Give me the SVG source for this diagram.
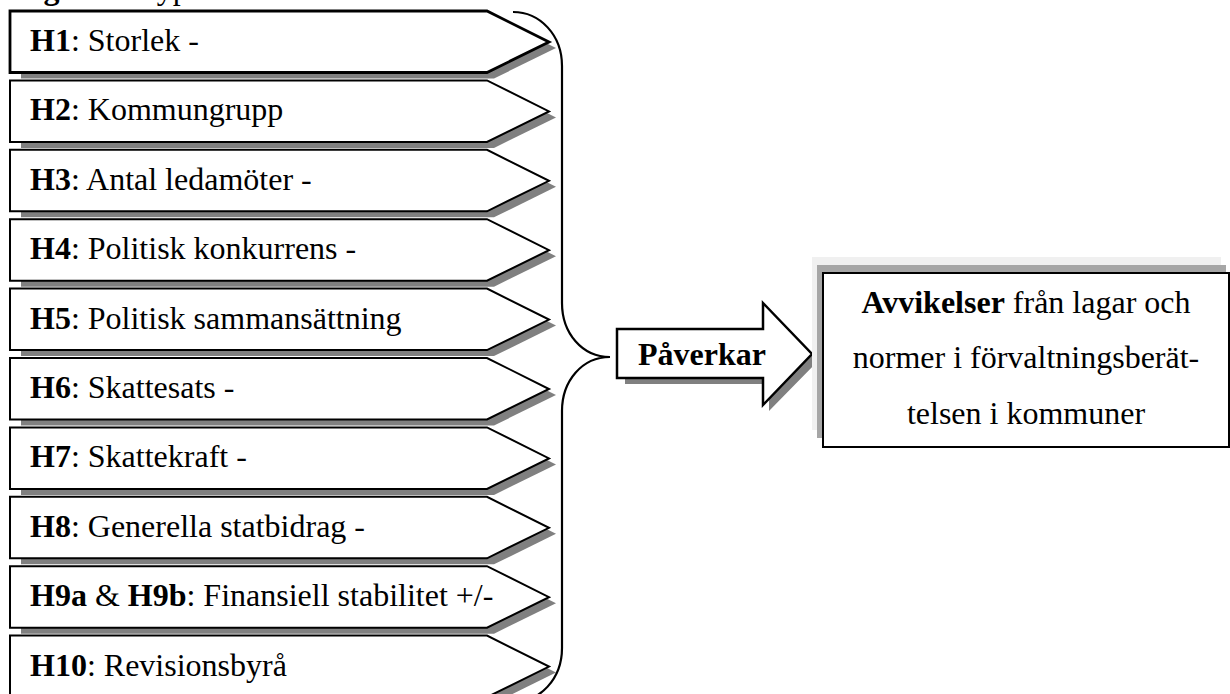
<svg xmlns="http://www.w3.org/2000/svg" width="1230" height="694" viewBox="0 0 1230 694">
<style>
.t{font-family:"Liberation Serif","Times New Roman",serif;font-size:32px;fill:#000}
.b{font-weight:bold}
.sh{fill:#808080;stroke:none}
.pent{fill:#fff;stroke:#000;stroke-width:2;stroke-linejoin:miter}
.brace{fill:none;stroke:#000;stroke-width:2.2}
</style>
<defs>
<path id="pshape" d="M10,0 H487 L549,31 L487,61.5 H10 Z"/>
<path id="pshadow" d="M21,6 H494 L556,37 L494,67.5 H21 Z"/>
</defs>
<g id="title"><text class="t" x="15" y="-1"><tspan class="b">Figur 1:</tspan> Hypoteser</text></g>
<g id="h1" transform="translate(0,11)"><use href="#pshadow" class="sh"/><use href="#pshape" class="pent" style="stroke-width:2.8"/><text class="t" x="30" y="40"><tspan class="b">H1</tspan>: Storlek -</text></g>
<g id="h2" transform="translate(0,80.4)"><use href="#pshadow" class="sh"/><use href="#pshape" class="pent"/><text class="t" x="30" y="40"><tspan class="b">H2</tspan>: Kommungrupp</text></g>
<g id="h3" transform="translate(0,149.8)"><use href="#pshadow" class="sh"/><use href="#pshape" class="pent"/><text class="t" x="30" y="40"><tspan class="b">H3</tspan>: Antal ledamöter -</text></g>
<g id="h4" transform="translate(0,219.2)"><use href="#pshadow" class="sh"/><use href="#pshape" class="pent"/><text class="t" x="30" y="40"><tspan class="b">H4</tspan>: Politisk konkurrens -</text></g>
<g id="h5" transform="translate(0,288.6)"><use href="#pshadow" class="sh"/><use href="#pshape" class="pent"/><text class="t" x="30" y="40"><tspan class="b">H5</tspan>: Politisk sammansättning</text></g>
<g id="h6" transform="translate(0,358)"><use href="#pshadow" class="sh"/><use href="#pshape" class="pent"/><text class="t" x="30" y="40"><tspan class="b">H6</tspan>: Skattesats -</text></g>
<g id="h7" transform="translate(0,427.4)"><use href="#pshadow" class="sh"/><use href="#pshape" class="pent"/><text class="t" x="30" y="40"><tspan class="b">H7</tspan>: Skattekraft -</text></g>
<g id="h8" transform="translate(0,496.8)"><use href="#pshadow" class="sh"/><use href="#pshape" class="pent"/><text class="t" x="30" y="40"><tspan class="b">H8</tspan>: Generella statbidrag -</text></g>
<g id="h9" transform="translate(0,566.2)"><use href="#pshadow" class="sh"/><use href="#pshape" class="pent"/><text class="t" x="30" y="40"><tspan class="b">H9a</tspan> &amp; <tspan class="b">H9b</tspan>: Finansiell stabilitet +/-</text></g>
<g id="h10" transform="translate(0,635.6)"><use href="#pshadow" class="sh"/><use href="#pshape" class="pent"/><text class="t" x="30" y="40"><tspan class="b">H10</tspan>: Revisionsbyrå</text></g>
<g id="connectors">
<path class="brace" d="M513,12 C540,12 562,35 562,66 V303 C562,333 582,357 610,357 C582,357 562,381 562,411 V648 C562,679 540,702 513,702"/>
</g>
<g id="paverkar">
<path class="sh" d="M625,335 H769 V309 L818,361 L769,411 V384 H625 Z"/>
<path d="M617,329 H763 V303 L812,354 L763,405 V378 H617 Z" fill="#fff" stroke="#000" stroke-width="2.5" stroke-linejoin="miter"/>
<text class="t b" x="702" y="365" text-anchor="middle">Påverkar</text>
</g>
<g id="avvikelser">
<rect x="812" y="257" width="409" height="173" fill="#f0f0f0"/>
<rect x="817" y="265" width="409" height="173" fill="#a6a6a6"/>
<rect x="823" y="273" width="406" height="174" fill="#fff" stroke="#000" stroke-width="2"/>
<text class="t" x="1026" y="313" text-anchor="middle"><tspan class="b">Avvikelser</tspan> från lagar och</text>
<text class="t" x="1026" y="368" text-anchor="middle">normer i förvaltningsberät-</text>
<text class="t" x="1026" y="424" text-anchor="middle">telsen i kommuner</text>
</g>
</svg>
